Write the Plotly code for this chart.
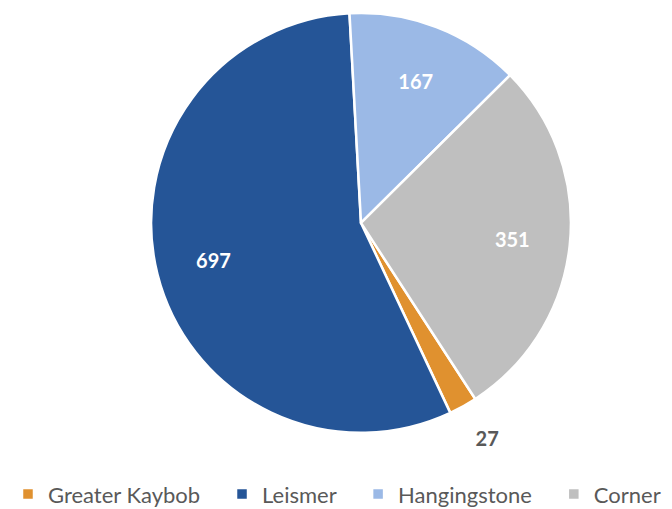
import plotly.graph_objects as go

# slice data
labels = ["Greater Kaybob", "Leismer", "Hangingstone", "Corner"]
values = [27, 697, 167, 351]
colors = ["#E0912F", "#255597", "#9BB9E6", "#BFBFBF"]

# legend names get some trailing space to spread the entries like the original
legend_names = [l + "\u00a0" * 3 for l in labels[:-1]] + [labels[-1]]

pie_domain = dict(x=[0.2098, 0.8408], y=[0.167, 1.0])

# the slices
fig = go.Figure(go.Pie(
    labels=legend_names,
    values=values,
    sort=False,
    direction="clockwise",
    rotation=147,
    marker=dict(colors=colors, line=dict(color="white", width=2.5)),
    textinfo="none",
    domain=pie_domain,
    hovertemplate="%{label}: %{value}<extra></extra>",
))

# transparent ring on top only to carry the value labels further out
fig.add_trace(go.Pie(
    labels=legend_names,
    values=values,
    sort=False,
    direction="clockwise",
    rotation=147,
    hole=0.45,
    marker=dict(colors=["rgba(0,0,0,0)"] * 4, line=dict(width=0)),
    texttemplate=["\u00a0<br>%{value}", "%{value}", "%{value}", "%{value}"],
    textposition=["outside", "inside", "inside", "inside"],
    insidetextorientation="horizontal",
    textfont=dict(family="Lato", size=20, weight="bold",
                  color=["#595959", "white", "white", "white"]),
    domain=pie_domain,
    showlegend=False,
    hoverinfo="skip",
))

fig.update_layout(
    width=672, height=509,
    margin=dict(l=0, r=0, t=0, b=0),
    paper_bgcolor="white",
    showlegend=True,
    legend=dict(
        orientation="h", x=0, y=0.045, xanchor="left", yanchor="middle",
        font=dict(family="Lato", size=22, color="#595959"),
        itemclick=False,
    ),
)

fig.write_html("out.html")
